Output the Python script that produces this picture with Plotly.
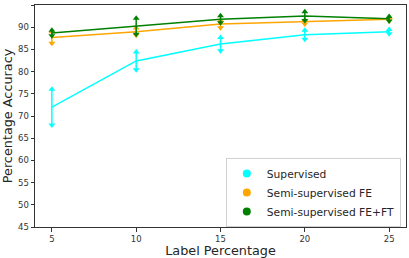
import plotly.graph_objects as go

label_pct = [5, 10, 15, 20, 25]
sup = [72.0, 82.4, 86.2, 88.3, 89.0]
sup_err = [4.0, 2.0, 1.5, 1.0, 0.5]
fe = [87.7, 89.0, 90.7, 91.2, 91.8]
fe_err = [1.3, 0.8, 0.8, 0.5, 0.4]
ft = [88.7, 90.2, 91.8, 92.5, 91.9]
ft_err = [0.6, 1.8, 0.8, 1.0, 0.5]

series = [
    ("Supervised", sup, sup_err, "#00FFFF"),
    ("Semi-supervised FE", fe, fe_err, "#FFA500"),
    ("Semi-supervised FE+FT", ft, ft_err, "#008000"),
]

fig = go.Figure()
for name, vals, errs, col in series:
    fig.add_trace(go.Scatter(
        x=label_pct, y=vals, mode="lines", line=dict(color=col, width=1.5),
        error_y=dict(type="data", array=errs, visible=True, color=col, thickness=1.5, width=0),
        showlegend=False, hoverinfo="skip"))
    fig.add_trace(go.Scatter(
        x=label_pct, y=[v + e for v, e in zip(vals, errs)], mode="markers",
        marker=dict(symbol="triangle-up", size=6, color=col), showlegend=False))
    fig.add_trace(go.Scatter(
        x=label_pct, y=[v - e for v, e in zip(vals, errs)], mode="markers",
        marker=dict(symbol="triangle-down", size=6, color=col), showlegend=False))
    fig.add_trace(go.Scatter(
        x=[None], y=[None], mode="markers", name=name,
        marker=dict(symbol="circle", size=8, color=col)))

axis_common = dict(showline=True, linecolor="#333333", linewidth=1, mirror=True,
                   ticks="outside", ticklen=3.5, tickcolor="#333333", showgrid=False,
                   zeroline=False, tickfont=dict(size=8.5, color="#333333"))

fig.update_layout(
    width=409, height=258,
    margin=dict(l=35, r=3, t=5, b=31),
    paper_bgcolor="white", plot_bgcolor="white",
    font=dict(family="DejaVu Sans", color="#262626"),
    xaxis=dict(range=[4, 26], tickvals=label_pct, ticktext=[str(v) for v in label_pct],
               title=dict(text="Label Percentage", font=dict(size=12.8), standoff=3),
               automargin=False, **axis_common),
    yaxis=dict(range=[45, 95], tickvals=list(range(45, 96, 5)),
               title=dict(text="Percentage Accuracy", font=dict(size=12.8), standoff=4),
               automargin=False, **axis_common),
    legend=dict(x=0.986, y=0.0, xanchor="right", yanchor="bottom",
                bgcolor="rgba(255,255,255,0.8)", bordercolor="#d0d0d0", borderwidth=1,
                font=dict(size=10.7), itemwidth=30, tracegroupgap=0),
)

fig.write_html("out.html", config={"displayModeBar": False},
               post_script="document.body.style.margin='0';")
